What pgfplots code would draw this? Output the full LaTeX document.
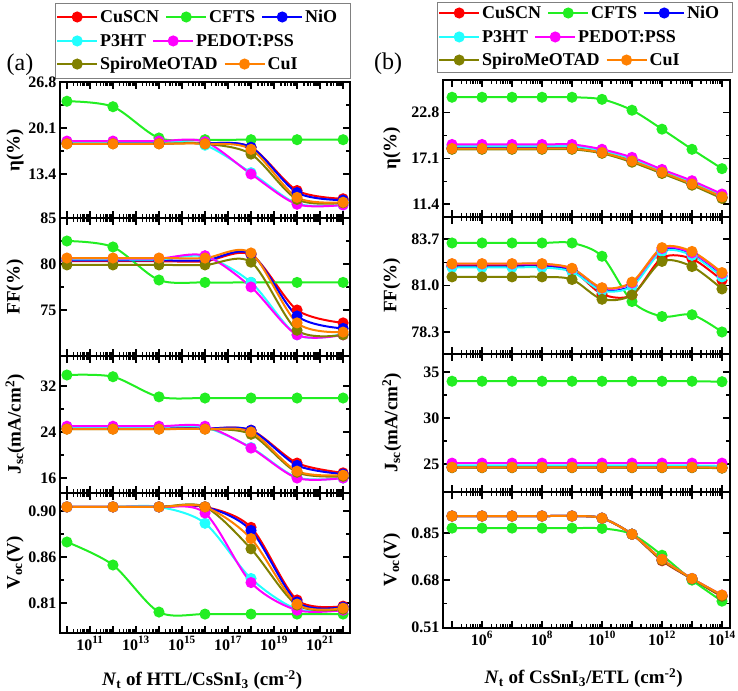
\documentclass[border=0pt]{standalone}
\usepackage{fontspec}
\setmainfont{Liberation Serif}
\usepackage{pgfplots}
\usepackage{pgfplotstable}
\pgfplotsset{compat=1.18}

\definecolor{ccuscn}{HTML}{FF0000}
\definecolor{ccfts}{HTML}{22EE22}
\definecolor{cnio}{HTML}{0000FF}
\definecolor{cp3ht}{HTML}{22FFFF}
\definecolor{cpedot}{HTML}{FF00FF}
\definecolor{cspiro}{HTML}{808000}
\definecolor{ccui}{HTML}{FF8000}

% ---- (a) defect density at HTL/CsSnI3 ----
\pgfplotstableread{
x cuscn cfts nio p3ht pedot spiro cui
1e10 17.9 24.0 17.9 18.1 18.2 17.8 17.8
1e12 17.9 23.2 17.9 18.1 18.2 17.8 17.8
1e14 17.9 18.65 17.9 18.1 18.2 17.8 17.8
1e16 17.9 18.4 17.9 17.6 18.1 17.8 17.8
1e18 17.3 18.4 17.3 13.6 13.4 16.3 17.0
1e20 11.0 18.4 10.7 9.1 9.0 9.7 10.0
1e22 9.8 18.4 9.6 8.9 8.9 9.2 9.3
}\etaA
\pgfplotstableread{
x cuscn cfts nio p3ht pedot spiro cui
1e10 80.3 82.5 80.4 80.5 80.6 79.9 80.65
1e12 80.3 81.85 80.4 80.5 80.6 79.9 80.65
1e14 80.3 78.26 80.4 80.5 80.6 79.9 80.65
1e16 80.3 78.0 80.4 80.8 80.9 79.9 80.65
1e18 81.0 78.0 81.1 78.0 77.5 80.2 81.2
1e20 75.0 78.0 74.35 72.3 72.3 72.8 73.6
1e22 73.6 78.0 73.0 72.4 72.3 72.3 72.6
}\ffA
\pgfplotstableread{
x cuscn cfts nio p3ht pedot spiro cui
1e10 24.6 33.9 24.6 24.9 25.0 24.5 24.5
1e12 24.6 33.6 24.6 24.9 25.0 24.5 24.5
1e14 24.6 30.1 24.6 24.9 25.0 24.5 24.5
1e16 24.6 29.9 24.6 24.8 25.0 24.5 24.5
1e18 24.3 29.9 24.3 21.3 21.2 23.6 24.0
1e20 18.6 29.9 18.2 16.1 16.0 17.0 17.2
1e22 16.9 29.9 16.7 16.0 16.0 16.3 16.5
}\jscA
\pgfplotstableread{
x cuscn cfts nio p3ht pedot spiro cui
1e10 0.904 0.8697 0.904 0.904 0.904 0.904 0.904
1e12 0.904 0.8472 0.904 0.904 0.904 0.904 0.904
1e14 0.904 0.8012 0.904 0.904 0.904 0.904 0.904
1e16 0.904 0.7992 0.904 0.888 0.898 0.904 0.904
1e18 0.884 0.7992 0.881 0.834 0.830 0.863 0.873
1e20 0.813 0.7992 0.811 0.804 0.803 0.808 0.809
1e22 0.807 0.7992 0.806 0.804 0.803 0.804 0.805
}\vocA

% ---- (b) defect density at CsSnI3/ETL ----
\pgfplotstableread{
x cuscn cfts nio p3ht pedot spiro cui
1e5 18.3 24.66 18.35 18.6 18.8 18.2 18.3
1e6 18.3 24.66 18.35 18.6 18.8 18.2 18.3
1e7 18.3 24.66 18.35 18.6 18.8 18.2 18.3
1e8 18.3 24.66 18.35 18.6 18.8 18.2 18.3
1e9 18.3 24.66 18.35 18.6 18.8 18.2 18.3
1e10 17.8 24.4 17.85 18.0 18.2 17.7 17.8
1e11 16.75 23.05 16.8 17.0 17.2 16.6 16.75
1e12 15.3 20.7 15.35 15.5 15.7 15.2 15.35
1e13 13.85 18.2 13.9 14.1 14.3 13.75 13.9
1e14 12.2 15.8 12.25 12.5 12.65 12.1 12.3
}\etaB
\pgfplotstableread{
x cuscn cfts nio p3ht pedot spiro cui
1e5 82.15 83.47 82.1 82.05 82.25 81.5 82.27
1e6 82.15 83.47 82.1 82.05 82.25 81.5 82.27
1e7 82.15 83.47 82.1 82.05 82.25 81.5 82.27
1e8 82.15 83.47 82.1 82.05 82.25 81.5 82.27
1e9 81.9 83.47 81.85 81.8 81.98 81.35 82.0
1e10 80.5 82.7 80.75 80.7 80.85 80.2 80.87
1e11 80.45 80.07 81.0 80.95 81.15 80.45 81.2
1e12 82.6 79.2 83.05 82.98 83.15 82.4 83.2
1e13 82.55 79.3 82.8 82.75 82.9 82.1 82.98
1e14 81.3 78.3 81.55 81.5 81.7 80.8 81.75
}\ffB
\pgfplotstableread{
x cuscn cfts nio p3ht pedot spiro cui
1e5 24.65 34.0 24.65 24.85 25.1 24.6 24.65
1e6 24.65 34.0 24.65 24.85 25.1 24.6 24.65
1e7 24.65 34.0 24.65 24.85 25.1 24.6 24.65
1e8 24.65 34.0 24.65 24.85 25.1 24.6 24.65
1e9 24.65 34.0 24.65 24.85 25.1 24.6 24.65
1e10 24.65 34.0 24.65 24.85 25.1 24.6 24.65
1e11 24.65 34.0 24.65 24.85 25.1 24.6 24.65
1e12 24.65 34.0 24.65 24.85 25.1 24.6 24.65
1e13 24.65 34.0 24.65 24.85 25.1 24.6 24.65
1e14 24.6 33.95 24.6 24.8 25.1 24.55 24.6
}\jscB
\pgfplotstableread{
x cuscn cfts nio p3ht pedot spiro cui
1e5 0.9116 0.868 0.9116 0.9116 0.9116 0.9116 0.9116
1e6 0.9116 0.868 0.9116 0.9116 0.9116 0.9116 0.9116
1e7 0.9116 0.868 0.9116 0.9116 0.9116 0.9116 0.9116
1e8 0.9116 0.868 0.9116 0.9116 0.9116 0.9116 0.9116
1e9 0.9116 0.868 0.9116 0.9116 0.9116 0.9116 0.9116
1e10 0.904 0.867 0.904 0.904 0.904 0.904 0.904
1e11 0.846 0.846 0.846 0.846 0.846 0.846 0.846
1e12 0.750 0.770 0.753 0.754 0.755 0.752 0.755
1e13 0.684 0.680 0.685 0.686 0.686 0.685 0.686
1e14 0.620 0.604 0.623 0.625 0.626 0.622 0.626
}\vocB

\pgfplotsset{
  legsty/.style={color=#1, line width=2pt, mark=*, mark size=4.5pt, mark options={solid}},
  sersty/.style={color=#1, line width=2pt, mark=*, mark size=4.5pt, mark options={solid}, smooth},
  colA/.style={
    scale only axis,
    width=290pt, xmin=5e9, xmax=2e22,
    xtick={1e10,1e11,1e12,1e13,1e14,1e15,1e16,1e17,1e18,1e19,1e20,1e21,1e22},
    every axis y label/.style={at={(axis description cs:-0.155,0.5)}, rotate=90, anchor=center,
      font=\fontsize{19}{22}\selectfont\bfseries},
  },
  colB/.style={
    scale only axis,
    width=287pt, xmin=5e4, xmax=1.85e14,
    xtick={1e5,1e6,1e7,1e8,1e9,1e10,1e11,1e12,1e13,1e14},
    every axis y label/.style={at={(axis description cs:-0.178,0.5)}, rotate=90, anchor=center,
      font=\fontsize{19}{22}\selectfont\bfseries},
  },
  every axis/.append style={
    axis line style={line width=2pt},
    tick align=inside,
    major tick style={black, line width=1.3pt},
    minor tick style={black, line width=1.1pt},
    major tick length=7pt, minor tick length=4pt,
    minor y tick num=1,
    tick label style={font=\fontsize{16}{18}\selectfont\bfseries},
    xticklabels={},
    legend columns=-1,
    legend image code/.code={\draw[mark repeat=2,mark phase=2] plot coordinates {(0pt,0pt) (20pt,0pt) (40pt,0pt)};},
    legend style={draw=none, fill=none, anchor=west,
      font=\fontsize{18}{20}\selectfont\bfseries, inner sep=0pt,
      /tikz/every even column/.append style={column sep=4pt}},
  },
}

\newcommand{\allseries}[1]{%
  \addplot[sersty=ccuscn, forget plot] table[x=x,y=cuscn]{#1};
  \addplot[sersty=ccfts, forget plot] table[x=x,y=cfts]{#1};
  \addplot[sersty=cnio, forget plot] table[x=x,y=nio]{#1};
  \addplot[sersty=cp3ht, forget plot] table[x=x,y=p3ht]{#1};
  \addplot[sersty=cpedot, forget plot] table[x=x,y=pedot]{#1};
  \addplot[sersty=cspiro, forget plot] table[x=x,y=spiro]{#1};
  \addplot[sersty=ccui, forget plot] table[x=x,y=cui]{#1};
}

\begin{document}
\begin{tikzpicture}
\useasboundingbox (0,0) rectangle (738pt,-690pt);

% legend frames and panel tags
\draw[gray, line width=0.8pt] (55pt,-3pt) rectangle (350pt,-78pt);
\draw[gray, line width=0.8pt] (437pt,-2pt) rectangle (732pt,-72pt);
\node[font=\fontsize{24}{26}\selectfont] at (20pt,-65pt) {(a)};
\node[font=\fontsize{24}{26}\selectfont] at (388pt,-64pt) {(b)};

% ===== column (a) =====
\begin{axis}[xmode=log, colA, at={(60pt,-82pt)}, anchor=north west, height=136pt, ymin=7, ymax=26.8,
  ytick={13.4,20.1,26.8}, yticklabels={13.4,20.1,26.8}, ylabel={η(\%)},
  legend style={at={(axis description cs:-0.0138,1.478)}}]
\allseries{\etaA}
\addlegendimage{legsty=ccuscn}\addlegendentry{CuSCN}
\addlegendimage{legsty=ccfts}\addlegendentry{CFTS}
\addlegendimage{legsty=cnio}\addlegendentry{NiO}
\end{axis}

\begin{axis}[xmode=log, colA, at={(60pt,-218pt)}, anchor=north west, height=138pt, ymin=70, ymax=85,
  ytick={75,80,85}, yticklabels={75,80,85}, ylabel={FF(\%)},
  legend style={at={(axis description cs:-0.0138,2.283)}}]
\allseries{\ffA}
\addlegendimage{legsty=cp3ht}\addlegendentry{P3HT}
\addlegendimage{legsty=cpedot}\addlegendentry{PEDOT:PSS}
\end{axis}

\begin{axis}[xmode=log, colA, at={(60pt,-356pt)}, anchor=north west, height=137pt, ymin=13.4, ymax=37.2,
  ytick={16,24,32}, yticklabels={16,24,32}, ylabel={J\textsubscript{sc}(mA/cm\textsuperscript{2})},
  legend style={at={(axis description cs:-0.0138,3.131)}}]
\allseries{\jscA}
\addlegendimage{legsty=cspiro}\addlegendentry{SpiroMeOTAD}
\addlegendimage{legsty=ccui}\addlegendentry{CuI}
\end{axis}

\begin{axis}[xmode=log, colA, at={(60pt,-493pt)}, anchor=north west, height=140pt, ymin=0.7807, ymax=0.9176,
  ytick={0.81,0.855,0.9}, yticklabels={0.81,0.86,0.90}, ylabel={V\textsubscript{oc}(V)},
  xticklabels={,10\textsuperscript{11},,10\textsuperscript{13},,10\textsuperscript{15},,10\textsuperscript{17},,10\textsuperscript{19},,10\textsuperscript{21},},
  xlabel={\textbf{\textit{N}}\textsubscript{t} of HTL/CsSnI\textsubscript{3} (cm\textsuperscript{-2})},
  every axis x label/.style={at={(axis description cs:0.49,-0.336)}, anchor=center,
    font=\fontsize{19}{22}\selectfont\bfseries}]
\allseries{\vocA}
\end{axis}

% ===== column (b) =====
\begin{axis}[xmode=log, colB, at={(443pt,-80pt)}, anchor=north west, height=137pt, ymin=9.8, ymax=26.8,
  ytick={11.4,17.1,22.8}, yticklabels={11.4,17.1,22.8}, ylabel={η(\%)},
  legend style={at={(axis description cs:-0.0174,1.489)}}]
\allseries{\etaB}
\addlegendimage{legsty=ccuscn}\addlegendentry{CuSCN}
\addlegendimage{legsty=ccfts}\addlegendentry{CFTS}
\addlegendimage{legsty=cnio}\addlegendentry{NiO}
\end{axis}

\begin{axis}[xmode=log, colB, at={(443pt,-217pt)}, anchor=north west, height=137pt, ymin=77.02, ymax=84.98,
  ytick={78.3,81.0,83.7}, yticklabels={78.3,81.0,83.7}, ylabel={FF(\%)},
  legend style={at={(axis description cs:-0.0174,2.314)}}]
\allseries{\ffB}
\addlegendimage{legsty=cp3ht}\addlegendentry{P3HT}
\addlegendimage{legsty=cpedot}\addlegendentry{PEDOT:PSS}
\end{axis}

\begin{axis}[xmode=log, colB, at={(443pt,-354pt)}, anchor=north west, height=138pt, ymin=21.96, ymax=36.96,
  ytick={25,30,35}, yticklabels={25,30,35}, ylabel={J\textsubscript{sc}(mA/cm\textsuperscript{2})},
  legend style={at={(axis description cs:-0.0174,3.130)}}]
\allseries{\jscB}
\addlegendimage{legsty=cspiro}\addlegendentry{SpiroMeOTAD}
\addlegendimage{legsty=ccui}\addlegendentry{CuI}
\end{axis}

\begin{axis}[xmode=log, colB, at={(443pt,-492pt)}, anchor=north west, height=136pt, ymin=0.507, ymax=0.9985,
  ytick={0.51,0.68,0.85}, yticklabels={0.51,0.68,0.85}, ylabel={V\textsubscript{oc}(V)},
  xticklabels={,10\textsuperscript{6},,10\textsuperscript{8},,10\textsuperscript{10},,10\textsuperscript{12},,10\textsuperscript{14}},
  xlabel={\textbf{\textit{N}}\textsubscript{t} of CsSnI\textsubscript{3}/ETL (cm\textsuperscript{-2})},
  every axis x label/.style={at={(axis description cs:0.49,-0.37)}, anchor=center,
    font=\fontsize{19}{22}\selectfont\bfseries}]
\allseries{\vocB}
\end{axis}
\end{tikzpicture}
\end{document}
